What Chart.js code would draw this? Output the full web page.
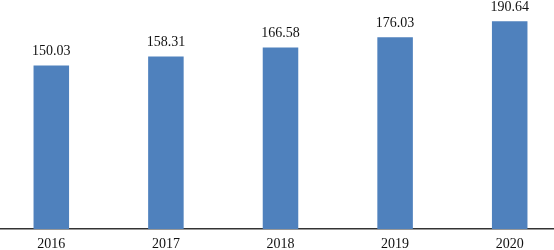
<!DOCTYPE html>
<html>
<head>
<meta charset="utf-8">
<script src="https://cdn.jsdelivr.net/npm/chart.js@4"></script>
<style>
  html, body { margin: 0; padding: 0; background: #fff; overflow: hidden; }
  #wrap { position: absolute; left: -6px; top: 0; width: 580px; height: 250px; }
</style>
</head>
<body>
<div id="wrap"><canvas id="chart"></canvas></div>
<script>
const years = ['2016', '2017', '2018', '2019', '2020'];
const values = [150.03, 158.31, 166.58, 176.03, 190.64];

// draws the number above each bar
const barLabels = {
  id: 'barLabels',
  afterDatasetsDraw(chart) {
    const ctx = chart.ctx;
    const meta = chart.getDatasetMeta(0);
    ctx.save();
    ctx.font = '14px "Liberation Serif", "Times New Roman", serif';
    ctx.fillStyle = '#111';
    ctx.textAlign = 'center';
    ctx.textBaseline = 'bottom';
    meta.data.forEach((bar, i) => {
      ctx.fillText(values[i].toFixed(2), bar.x, bar.y - 7);
    });
    ctx.restore();
  }
};

new Chart(document.getElementById('chart').getContext('2d'), {
  type: 'bar',
  data: {
    labels: years,
    datasets: [{
      data: values,
      backgroundColor: '#4F81BD',
      categoryPercentage: 1,
      barPercentage: 0.31
    }]
  },
  options: {
    responsive: true,
    maintainAspectRatio: false,
    animation: false,
    layout: { padding: { left: 0, right: 7, top: 11, bottom: -9 } },
    plugins: { legend: { display: false }, tooltip: { enabled: false } },
    scales: {
      x: {
        grid: { display: false, drawTicks: false },
        border: { display: true, color: '#333', width: 1.5 },
        ticks: {
          padding: 8,
          color: '#111',
          font: { family: '"Liberation Serif", "Times New Roman", serif', size: 14, lineHeight: 1 }
        }
      },
      y: {
        display: false,
        min: 0,
        max: 200
      }
    }
  },
  plugins: [barLabels]
});
</script>
</body>
</html>
